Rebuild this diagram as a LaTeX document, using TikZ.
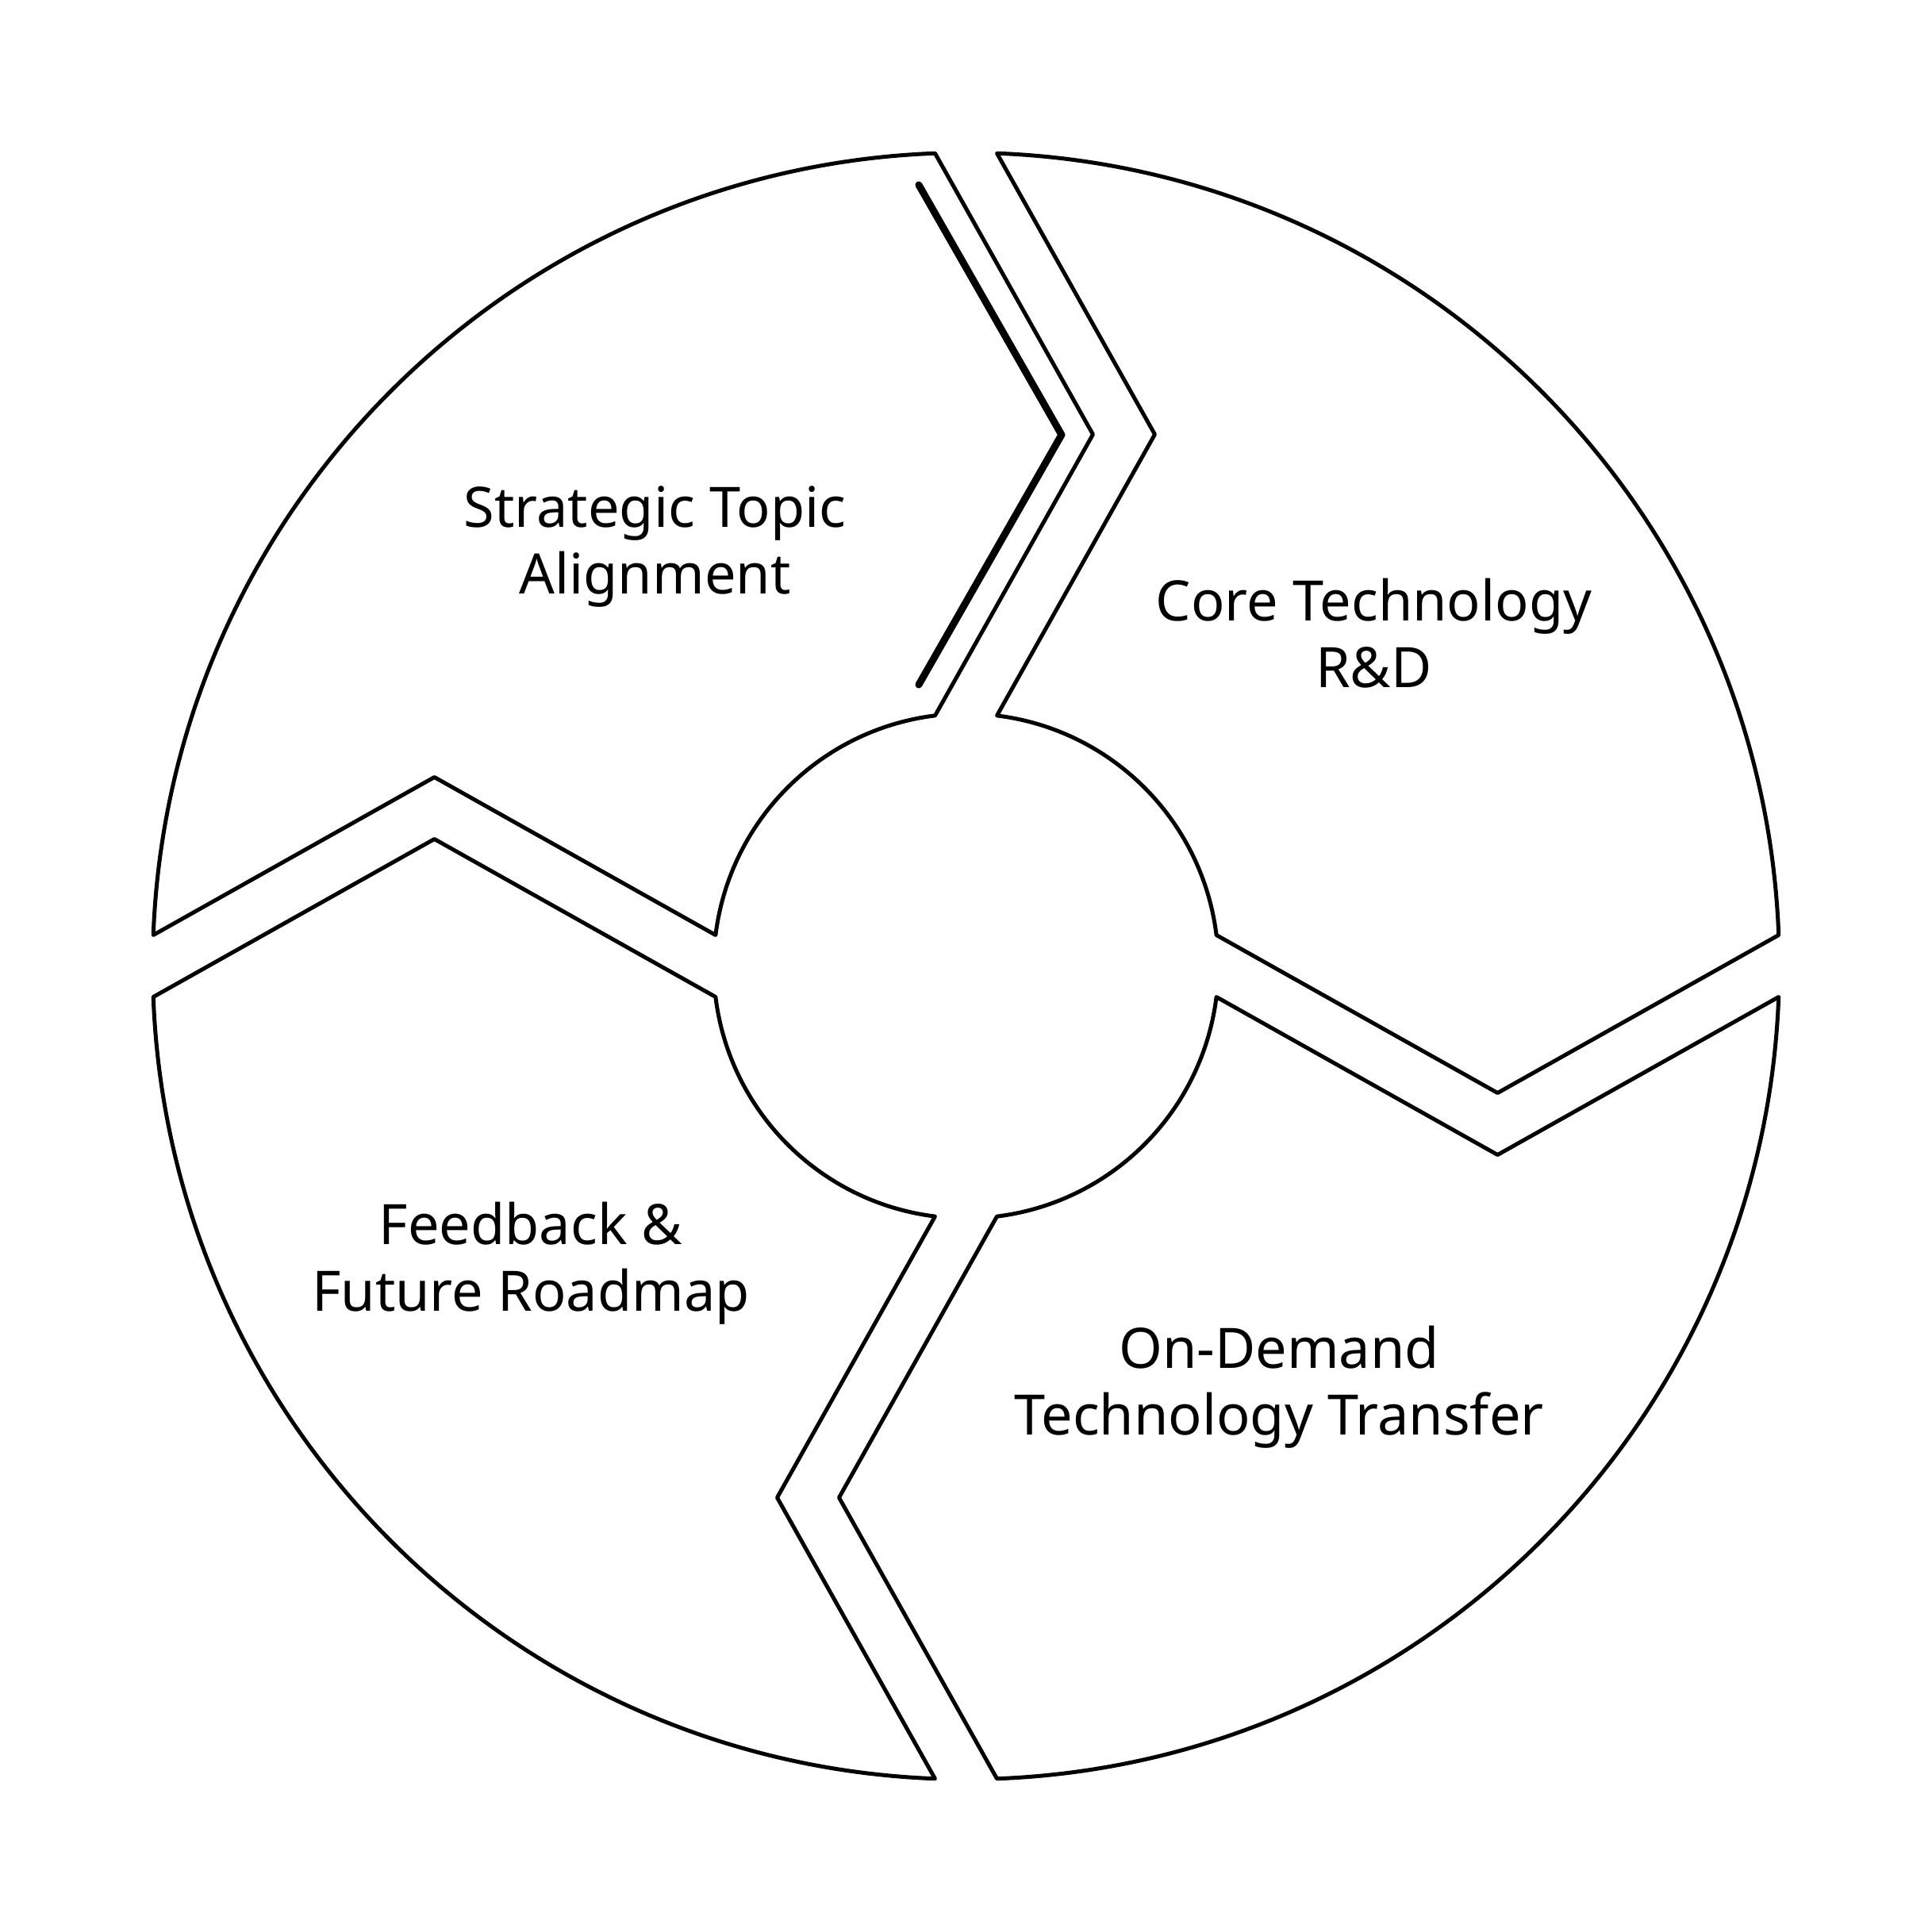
\documentclass[tikz,border=0pt]{standalone}
\usepackage{fontspec}
\setmainfont{Noto Sans}

\begin{document}
\begin{tikzpicture}[
    segment/.style={draw=black, line width=0.05cm, line join=round},
    seglabel/.style={align=center, anchor=base, inner sep=0pt,
        font=\fontsize{20pt}{23.9pt}\selectfont}
]
    % Marco
    \useasboundingbox (-12.175,-12.175) rectangle (12.175,12.175);

    % Segmentos (el mismo contorno girado por cuadrante)
    \foreach \ang in {0,-90,-180,-270}{
        \draw[segment, rotate=\ang] (-0.39,10.2426) arc (92.18:177.82:10.25)
            -- (-6.70,2.38) -- (-3.156,0.39) arc (172.96:97.04:3.18)
            -- (1.60,6.70) -- cycle;
    }

    % Linea gruesa dentro del primer segmento
    \draw[black, line width=0.09cm, line cap=round, line join=round]
        (-0.595,9.845) -- (1.205,6.695) -- (-0.595,3.545);

    % Textos (base = linea de abajo)
    \node[seglabel] (strategic) at (-3.92, 4.69) {Strategic Topic\\Alignment};
    \node[seglabel] (core) at (5.14, 3.515) {Core Technology\\R\&D};
    \node[seglabel] (demand) at (3.945, -5.91) {On-Demand\\Technology Transfer};
    \node[seglabel] (feedback) at (-5.485, -4.35) {Feedback \&\\Future Roadmap};
\end{tikzpicture}
\end{document}
